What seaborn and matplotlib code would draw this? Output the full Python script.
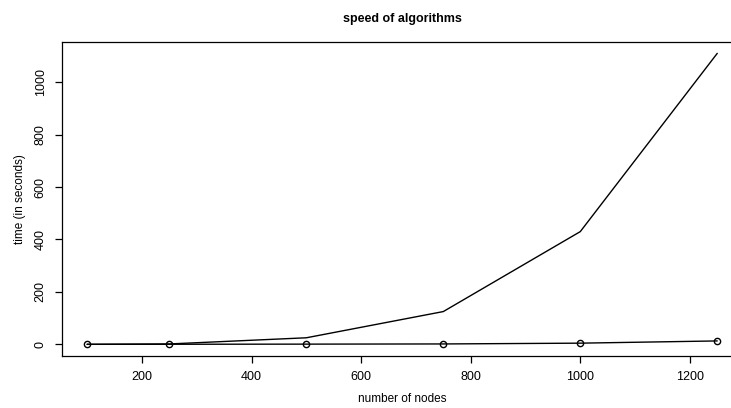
import matplotlib
matplotlib.use("Agg")
import matplotlib.pyplot as plt
import seaborn as sns
import pandas as pd

nodes = [100, 250, 500, 750, 1000, 1250]
slow_times = [0.1, 1.5, 25, 125, 430, 1110]
fast_times = [0.05, 0.3, 0.8, 1.5, 4.5, 13]
x_ticks = [200, 400, 600, 800, 1000, 1200]
y_ticks = [0, 200, 400, 600, 800, 1000]

sns.set_style("ticks")
plt.rcParams['font.family'] = ['Liberation Sans', 'DejaVu Sans']
plt.rcParams['text.color'] = 'black'
plt.rcParams['axes.labelcolor'] = 'black'
plt.rcParams['xtick.color'] = 'black'
plt.rcParams['ytick.color'] = 'black'

fig = plt.figure(figsize=(7.31, 4.08), dpi=100)
fig.patch.set_facecolor("white")
ax = fig.add_axes([0.0847, 0.1275, 0.931, 0.7703])
ax.patch.set_visible(False)

df_slow = pd.DataFrame({"n": nodes, "t": slow_times})
df_fast = pd.DataFrame({"n": nodes, "t": fast_times})
sns.lineplot(data=df_slow, x="n", y="t", ax=ax, color="black", linewidth=1.0)
sns.lineplot(data=df_fast, x="n", y="t", ax=ax, color="black", linewidth=1.0,
             marker="o", markersize=4.5, markerfacecolor="none",
             markeredgecolor="black", markeredgewidth=1.0)

xr = max(nodes) - min(nodes)
ax.set_xlim(min(nodes) - 0.04 * xr, max(nodes) + 0.04 * xr)
ymax = max(slow_times)
ax.set_ylim(-0.04 * ymax, ymax * 1.04)
ax.set_xticks(x_ticks)
ax.set_yticks(y_ticks)
ax.set_yticklabels([str(v) for v in y_ticks], rotation=90, va="center")
ax.tick_params(axis="both", length=5, width=0.9, colors="black",
               labelsize=9, pad=6, direction="out")
for s in ax.spines.values():
    s.set_color("black")
    s.set_linewidth(0.9)
ax.spines["right"].set_visible(False)

ax.set_xlabel("number of nodes", fontsize=8.5, labelpad=7, color="black")
ax.set_ylabel("time (in seconds)", fontsize=8.5, labelpad=6, color="black")
fig.text(0.5 * (0.0847 + 0.0847 + 0.931), 0.953, "speed of algorithms",
         ha="center", va="center", fontsize=9, fontweight="bold", color="black")
ax.grid(False)

fig.savefig("out.png", dpi=100, facecolor="white")
